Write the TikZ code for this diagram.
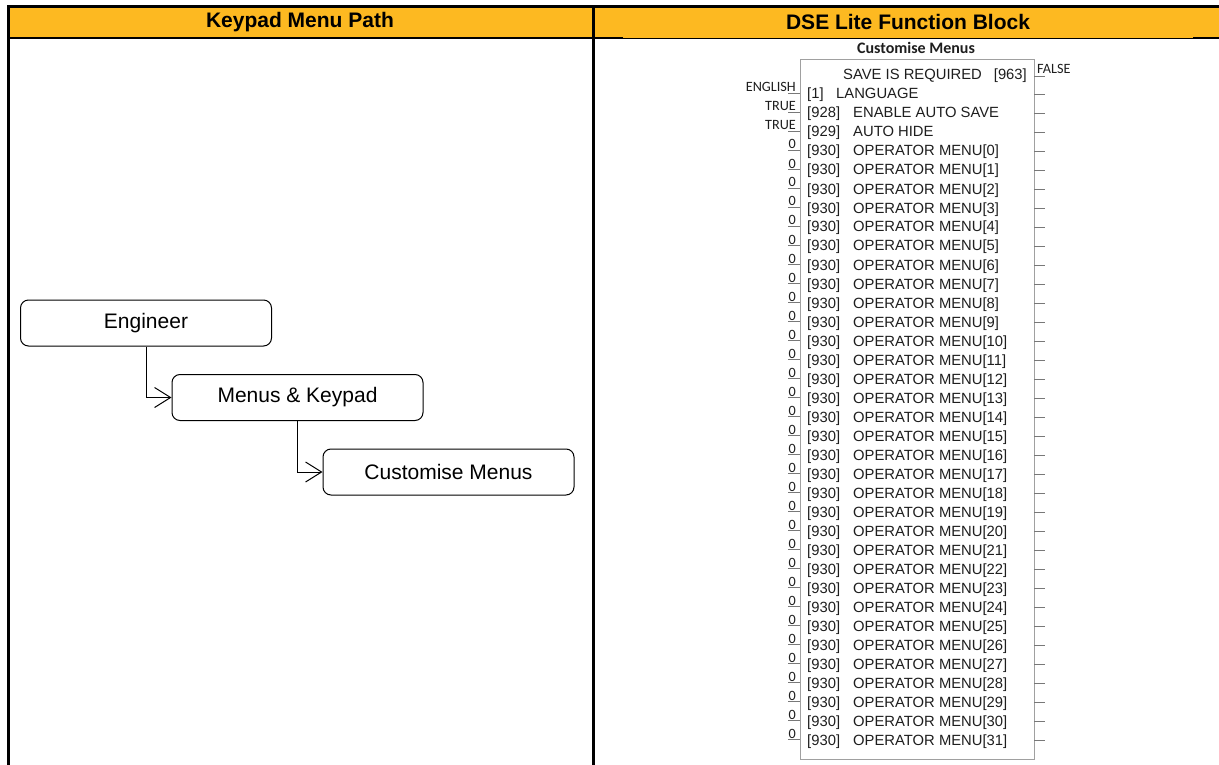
\documentclass[tikz,border=0pt]{standalone}
\usepackage{fontspec}
\setmainfont{Liberation Sans}
\newfontfamily\calfont{Carlito}
\usetikzlibrary{arrows.meta}
\definecolor{hdr}{RGB}{253,185,33}
\definecolor{fbline}{RGB}{160,160,160}
\definecolor{stub}{RGB}{120,120,120}
\definecolor{txt}{RGB}{30,30,30}
\tikzset{
  hdrtext/.style={font=\bfseries\fontsize{21}{25}\selectfont, inner sep=0pt},
  menubox/.style={draw, line width=1pt, rounded corners=8pt, minimum width=251pt,
    minimum height=46pt, inner sep=0pt, font=\fontsize{21}{25}\selectfont},
  conn/.style={line width=1pt, -{Straight Barb[length=16pt,width=20pt,line width=1pt]}},
  lbl/.style={font=\fontsize{14.8}{16}\selectfont, text=txt, inner sep=0pt},
  val/.style={font=\calfont\fontsize{14.2}{15}\selectfont, text=txt, inner sep=0pt},
  stubline/.style={draw=stub, line width=1pt},
}
\begin{document}
\begin{tikzpicture}[x=1pt,y=-1pt]
\useasboundingbox (0,0) rectangle (1219,765);
% table
\fill[hdr] (8,7) rectangle (1225,38);
\draw[line width=3pt] (1225,7) -- (8,7) -- (8,770);
\draw[line width=3pt] (593,7) -- (593,770);
\draw[line width=2.5pt] (8,38) -- (623,38);
\draw[line width=2.5pt] (1193,38) -- (1225,38);
\draw[line width=0.8pt] (623,38.5) -- (1193,38.5);
\node[hdrtext] (h1) at (300,22) {Keypad Menu Path};
\node[hdrtext] (h2) at (908,22) {DSE Lite Function Block};
% menu path
\node[menubox] (eng) at (146,323) {\raisebox{-1pt}{Engineer}};
\node[menubox] (mk) at (297.5,397.5) {\raisebox{-1pt}{Menus \& Keypad}};
\node[menubox] (cm) at (448.5,472) {Customise Menus};
\draw[conn] (eng.south) |- (mk.west);
\draw[conn] (mk.south) |- (cm.west);
% function block
\node[font=\calfont\bfseries\fontsize{16}{18}\selectfont, text=txt, inner sep=0pt] (title) at (916,48) {Customise Menus};
\node[draw=fbline, line width=1pt, minimum width=234pt, minimum height=699pt, inner sep=0pt] (fb) at (917,409.5) {};
% output row 0
\node[lbl, anchor=base west] (save) at (843,80) {SAVE IS REQUIRED};
\node[lbl, anchor=base east] (save963) at (1027,80) {[963]};
\coordinate (out0) at (1034,77);
\draw[stubline] (out0) -- ++(11,0);
\node[val, anchor=base west] (false) at (1037,74) {FALSE};
% fixed inputs
\node[lbl, anchor=base west] (p1) at (807,99) {[1]};
\node[lbl, anchor=base west] (l1) at (836,99) {LANGUAGE};
\node[lbl, anchor=base west] (p2) at (807,118) {[928]};
\node[lbl, anchor=base west] (l2) at (853,118) {ENABLE AUTO SAVE};
\node[lbl, anchor=base west] (p3) at (807,137) {[929]};
\node[lbl, anchor=base west] (l3) at (853,137) {AUTO HIDE};
\node[val, anchor=base east] (v1) at (796,92) {ENGLISH};
\node[val, anchor=base east] (v2) at (796,111) {TRUE};
\node[val, anchor=base east] (v3) at (796,130) {TRUE};
\foreach \k in {4,...,35} {
  \pgfmathtruncatemacro{\m}{\k-4}
  \pgfmathsetmacro{\yy}{75+19*\k}
  \node[lbl, anchor=base west] (p\k) at (807,\yy+5) {[930]};
  \node[lbl, anchor=base west] (l\k) at (853,\yy+5) {OPERATOR MENU[\m]};
  \node[val, anchor=base east] (v\k) at (796,\yy-2) {0};
}
\foreach \k in {1,...,35} {
  \pgfmathsetmacro{\yy}{75+19*\k}
  \coordinate (in\k) at (800,\yy-0.5);
  \coordinate (out\k) at (1034,\yy+0.5);
  \draw[stubline] (in\k) -- ++(-12,0);
  \draw[stubline] (out\k) -- ++(11,0);
}
\end{tikzpicture}
\end{document}
